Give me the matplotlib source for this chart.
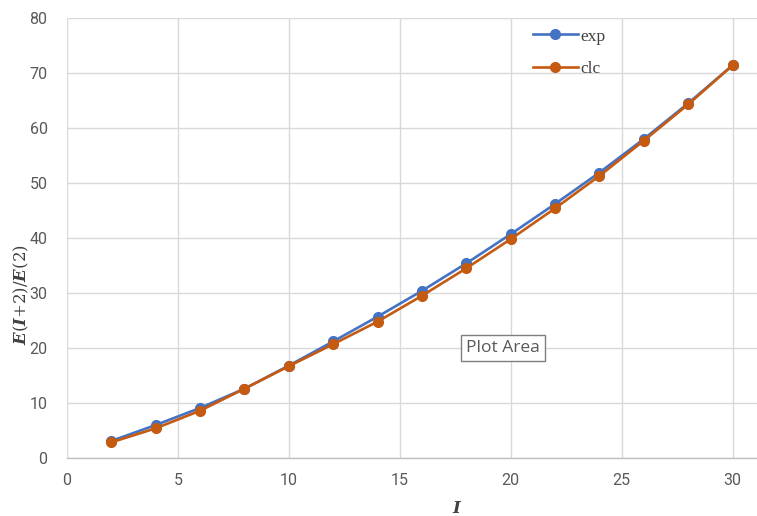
import matplotlib
matplotlib.use("Agg")
import matplotlib.pyplot as plt

# данные
I_vals = [2, 4, 6, 8, 10, 12, 14, 16, 18, 20, 22, 24, 26, 28, 30]
exp_vals = [3.1, 6.0, 9.1, 12.6, 16.8, 21.2, 25.7, 30.4, 35.4, 40.7, 46.2, 51.9, 58.0, 64.5, 71.4]
clc_vals = [2.85, 5.4, 8.6, 12.6, 16.7, 20.7, 24.8, 29.5, 34.5, 39.8, 45.4, 51.3, 57.7, 64.3, 71.4]

x_ticks = [0, 5, 10, 15, 20, 25, 30]
y_ticks = [0, 10, 20, 30, 40, 50, 60, 70, 80]

blue = "#4472C4"
orange = "#C55A11"
grid_c = "#D9D9D9"
tick_c = "#595959"

plt.rcParams["mathtext.fontset"] = "dejavuserif"

fig = plt.figure(figsize=(7.57, 5.16), dpi=100)
ax = fig.add_axes([67 / 757, 1 - 458 / 516, 1 - 67 / 757, (458 - 18) / 516])

ax.plot(I_vals, exp_vals, color=blue, lw=1.9, marker="o", ms=7, label="exp", zorder=3)
ax.plot(I_vals, clc_vals, color=orange, lw=1.9, marker="o", ms=7, label="clc", zorder=4)

ax.set_xlim(0, 31.1)
ax.set_ylim(0, 80)
ax.set_xticks(x_ticks)
ax.set_yticks(y_ticks)
ax.grid(True, color=grid_c, lw=1.0)
ax.set_axisbelow(True)
for s in ["top", "right", "left"]:
    ax.spines[s].set_visible(False)
ax.spines["bottom"].set_color("#BFBFBF")
ax.spines["bottom"].set_linewidth(1.0)
ax.tick_params(length=0, labelsize=11.5, labelcolor=tick_c, pad=11)
for lab in ax.get_xticklabels() + ax.get_yticklabels():
    lab.set_family(["Roboto", "DejaVu Sans"])
ax.tick_params(axis="y", pad=14)

leg = ax.legend(loc="upper left", bbox_to_anchor=(0.66, 1.0), frameon=False,
                prop={"family": "Liberation Serif", "size": 12.5}, labelspacing=0.95,
                handlelength=2.6, handletextpad=0.15, labelcolor="#404040",
                borderaxespad=0.2)

ax.text(0.632, 0.25, "Plot Area", transform=ax.transAxes, ha="center", va="center",
        fontsize=12.5, color="#595959", family="Open Sans",
        bbox=dict(boxstyle="square,pad=0.3", fc="white", ec="#7F7F7F", lw=1.0))

fig.text(21 / 757, 1 - 295 / 516, r"$\mathbfit{E}(\mathbfit{I}{+}2)/\mathbfit{E}(2)$",
         rotation=90, ha="center", va="center", fontsize=12, color="#404040")
fig.text(457 / 757, 1 - 508 / 516, r"$\mathbfit{I}$", ha="center", va="center",
         fontsize=12, color="#404040")

fig.savefig("out.png", dpi=100)
